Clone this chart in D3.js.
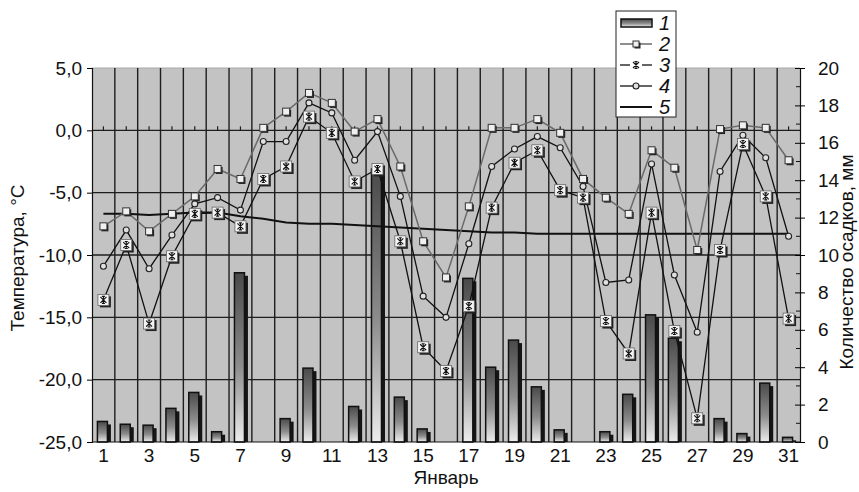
<!DOCTYPE html>
<html>
<head>
  <meta charset="UTF-8">
  <title>Январь</title>
  <style>
    body { margin: 0; background: #ffffff; }
    svg { display: block; font-family: "Liberation Sans", Arial, sans-serif; }
  </style>
</head>
<body>
<svg></svg>
<script src="https://d3js.org/d3.v7.min.js"></script>
<script>

let width = 859, height = 492;

// days of January
const days = d3.range(1, 32);
// 1 - precipitation, mm (right axis)
const precip = [1.1, 0.95, 0.9, 1.8, 2.65, 0.55, 9.05, 0, 1.25, 3.95,
                0, 1.9, 14.6, 2.4, 0.7, 0, 8.75, 4.0, 5.45, 2.95,
                0.65, 0, 0.55, 2.55, 6.8, 5.55, 0, 1.25, 0.45, 3.15, 0.25];
// 2 - max temperature
const tMax = [-7.7, -6.5, -8.1, -6.7, -5.3, -3.1, -3.9, 0.2, 1.5, 3.0,
              2.2, -0.1, 0.9, -2.9, -8.9, -11.8, -6.1, 0.2, 0.2, 0.9,
              -0.2, -3.9, -5.4, -6.7, -1.6, -3.0, -9.6, 0.1, 0.4, 0.2, -2.4];
// 3 - min temperature
const tMin = [-13.6, -9.2, -15.5, -10.1, -6.7, -6.6, -7.7, -3.9, -2.9, 1.1,
              -0.2, -4.1, -3.1, -8.9, -17.4, -19.3, -14.1, -6.2, -2.6, -1.6,
              -4.8, -5.4, -15.3, -17.9, -6.6, -16.1, -23.1, -9.6, -1.1, -5.3, -15.1];
// 4 - mean temperature
const tMean = [-10.9, -8.0, -11.1, -8.4, -5.9, -5.4, -6.4, -0.9, -0.9, 2.2,
               1.4, -2.4, -0.1, -5.3, -13.3, -15.0, -9.1, -2.9, -1.5, -0.5,
               -1.4, -4.5, -12.2, -12.0, -2.7, -11.6, -16.2, -3.3, -0.4, -2.2, -8.5];
// 5 - long-term norm
const tNorm = [-6.7, -6.7, -6.8, -6.7, -6.6, -6.6, -6.9, -7.1, -7.4, -7.5,
               -7.5, -7.6, -7.7, -7.8, -7.9, -8.0, -8.1, -8.2, -8.2, -8.3,
               -8.3, -8.3, -8.3, -8.3, -8.3, -8.3, -8.3, -8.3, -8.3, -8.3, -8.3];

const tempTicks = [-25, -20, -15, -10, -5, 0, 5];
const precipTicks = d3.range(0, 21, 2);
const legendLabels = ["1", "2", "3", "4", "5"];

let svg = d3.select("svg")
    .attr("width", width)
    .attr("height", height);

let pLeft = 92, pRight = 800, pTop = 68, pBottom = 442;

let x = d3.scaleBand().domain(days).range([pLeft, pRight]).padding(0);
let yT = d3.scaleLinear().domain([-25, 5]).range([pBottom, pTop]);
let yP = d3.scaleLinear().domain([0, 20]).range([pBottom, pTop]);
let cx = d => x(d) + x.bandwidth() / 2;

let defs = svg.append("defs");
let grad = defs.append("linearGradient")
    .attr("id", "barGrad")
    .attr("x1", 0).attr("y1", 0).attr("x2", 0).attr("y2", 1);
grad.append("stop").attr("offset", "0%").attr("stop-color", "#4a4a4a");
grad.append("stop").attr("offset", "55%").attr("stop-color", "#8c8c8c");
grad.append("stop").attr("offset", "100%").attr("stop-color", "#ececec");

// plot area
svg.append("rect")
    .attr("x", pLeft).attr("y", pTop)
    .attr("width", pRight - pLeft).attr("height", pBottom - pTop)
    .attr("fill", "#c3c3c3");
svg.append("line")
    .attr("x1", pLeft).attr("x2", pRight).attr("y1", pTop).attr("y2", pTop)
    .attr("stroke", "#a8a8a8").attr("stroke-width", 1);

// gridlines
let grid = svg.append("g");
grid.selectAll(".vg")
    .data(days.slice(1))
    .enter().append("line")
    .attr("x1", d => x(d)).attr("x2", d => x(d))
    .attr("y1", pTop).attr("y2", pBottom)
    .attr("stroke", "#1e1e1e").attr("stroke-width", 1.4);
grid.selectAll(".hg")
    .data(tempTicks.filter(v => v > -25 && v < 5))
    .enter().append("line")
    .attr("x1", pLeft).attr("x2", pRight)
    .attr("y1", d => yT(d)).attr("y2", d => yT(d))
    .attr("stroke", "#1e1e1e").attr("stroke-width", 1.4);

// small category ticks on the zero line
grid.selectAll(".zt")
    .data(days)
    .enter().append("line")
    .attr("x1", d => cx(d)).attr("x2", d => cx(d))
    .attr("y1", yT(0)).attr("y2", yT(0) - 4)
    .attr("stroke", "#1e1e1e").attr("stroke-width", 1.2);

// bars (series 1)
let bw = 10;
let bars = svg.append("g").selectAll("g")
    .data(days.filter((d, i) => precip[i] > 0))
    .enter().append("g");
bars.append("rect")
    .attr("x", d => cx(d) - bw / 2 - 1 + 3.5)
    .attr("y", d => yP(precip[d - 1]) + 3)
    .attr("width", bw)
    .attr("height", d => pBottom - yP(precip[d - 1]) - 3)
    .attr("fill", "#151515");
bars.append("rect")
    .attr("x", d => cx(d) - bw / 2 - 1)
    .attr("y", d => yP(precip[d - 1]))
    .attr("width", bw)
    .attr("height", d => pBottom - yP(precip[d - 1]))
    .attr("fill", "url(#barGrad)")
    .attr("stroke", "#111")
    .attr("stroke-width", 1.5);

// lines
let line = d3.line().x((v, i) => cx(days[i])).y(v => yT(v));

svg.append("path").datum(tNorm)
    .attr("d", line).attr("fill", "none")
    .attr("stroke", "#111").attr("stroke-width", 2);

svg.append("path").datum(tMax)
    .attr("d", line).attr("fill", "none")
    .attr("stroke", "#6a6a6a").attr("stroke-width", 1.5);

svg.append("path").datum(tMean)
    .attr("d", line).attr("fill", "none")
    .attr("stroke", "#111").attr("stroke-width", 1.3);

svg.append("path").datum(tMin)
    .attr("d", line).attr("fill", "none")
    .attr("stroke", "#111").attr("stroke-width", 1.3);

// markers
function squareMark(g, s) {
  g.append("rect").attr("x", -s / 2 + 1.5).attr("y", -s / 2 + 1.5)
    .attr("width", s).attr("height", s).attr("fill", "#222");
  g.append("rect").attr("x", -s / 2).attr("y", -s / 2)
    .attr("width", s).attr("height", s)
    .attr("fill", "#f0f0f0").attr("stroke", "#333").attr("stroke-width", 1);
}
function starMark(g, boxed) {
  if (boxed) {
    g.append("rect").attr("x", -5.5 + 2).attr("y", -5.5 + 2)
      .attr("width", 11).attr("height", 11).attr("fill", "#222");
    g.append("rect").attr("x", -5.5).attr("y", -5.5)
      .attr("width", 11).attr("height", 11)
      .attr("fill", "#f4f4f4").attr("stroke", "#666").attr("stroke-width", 0.8);
  }
  let r = 3.5;
  let p = "M0," + (-r) + "V" + r +
          "M" + (-3) + "," + (-3) + "L3,3" +
          "M3,-3L-3,3" +
          "M-1.5," + (-r) + "H1.5" +
          "M-1.5," + r + "H1.5";
  g.append("path").attr("d", p).attr("stroke", "#111").attr("stroke-width", 1.1).attr("fill", "none");
}
function circleMark(g) {
  g.append("circle").attr("r", 3).attr("fill", "#e0e0e0")
    .attr("stroke", "#222").attr("stroke-width", 1.1);
}

svg.append("g").selectAll("g")
    .data(tMax).enter().append("g")
    .attr("transform", (v, i) => "translate(" + cx(days[i]) + "," + yT(v) + ")")
    .each(function() { squareMark(d3.select(this), 7); });

svg.append("g").selectAll("g")
    .data(tMean).enter().append("g")
    .attr("transform", (v, i) => "translate(" + cx(days[i]) + "," + yT(v) + ")")
    .each(function() { circleMark(d3.select(this)); });

svg.append("g").selectAll("g")
    .data(tMin).enter().append("g")
    .attr("transform", (v, i) => "translate(" + cx(days[i]) + "," + yT(v) + ")")
    .each(function() { starMark(d3.select(this), true); });

// axes
let leftAxis = svg.append("g")
    .attr("transform", "translate(" + pLeft + ",0)")
    .call(d3.axisLeft(yT).tickValues(tempTicks).tickSize(5).tickPadding(5)
      .tickFormat(d => d.toFixed(1).replace(".", ",")));
leftAxis.select(".domain").attr("stroke", "#111").attr("stroke-width", 1.2);
leftAxis.selectAll("text").style("font-size", "19px").attr("fill", "#111")
    .attr("font-family", "'Liberation Sans', Arial, sans-serif");

let rightAxis = svg.append("g")
    .attr("transform", "translate(" + pRight + ",0)")
    .call(d3.axisRight(yP).tickValues(precipTicks).tickSize(5).tickPadding(13)
      .tickFormat(d => String(d)));
rightAxis.select(".domain").attr("stroke", "#111").attr("stroke-width", 1.2);
rightAxis.selectAll(".tick line").attr("x1", -5);
rightAxis.selectAll("text").style("font-size", "19px").attr("fill", "#111")
    .attr("font-family", "'Liberation Sans', Arial, sans-serif");
rightAxis.selectAll(".minor")
    .data(d3.range(1, 20, 2))
    .enter().append("line")
    .attr("x1", -4).attr("x2", 0)
    .attr("y1", d => yP(d)).attr("y2", d => yP(d))
    .attr("stroke", "#111");

svg.append("line")
    .attr("x1", pLeft).attr("x2", pRight).attr("y1", pBottom).attr("y2", pBottom)
    .attr("stroke", "#111").attr("stroke-width", 1.2);

let bottomAxis = svg.append("g")
    .attr("transform", "translate(0," + pBottom + ")")
    .call(d3.axisBottom(x).tickValues(days.filter(d => d % 2 === 1)).tickSize(0).tickPadding(7));
bottomAxis.select(".domain").remove();
bottomAxis.selectAll("text").style("font-size", "19px").attr("fill", "#111")
    .attr("font-family", "'Liberation Sans', Arial, sans-serif");

// titles
svg.append("text")
    .attr("transform", "translate(24,258) rotate(-90)")
    .attr("text-anchor", "middle")
    .style("font-size", "19px").attr("fill", "#111")
    .text("Температура, °С");
svg.append("text")
    .attr("transform", "translate(853,262) rotate(-90)")
    .attr("text-anchor", "middle")
    .style("font-size", "19px").attr("fill", "#111")
    .text("Количество осадков, мм");
svg.append("text")
    .attr("x", (pLeft + pRight) / 2).attr("y", 484)
    .attr("text-anchor", "middle")
    .style("font-size", "19px").attr("fill", "#111")
    .text("Январь");

// legend
let lg = svg.append("g");
lg.append("rect")
    .attr("x", 616).attr("y", 11).attr("width", 60).attr("height", 106)
    .attr("fill", "#fff").attr("stroke", "#222").attr("stroke-width", 1);
let ly = d3.scalePoint().domain(legendLabels).range([23, 107]);
legendLabels.forEach(k => {
  let yy = ly(k);
  let g = lg.append("g").attr("transform", "translate(636," + yy + ")");
  if (k === "1") {
    g.append("rect").attr("x", -15).attr("y", -4).attr("width", 31).attr("height", 8)
      .attr("fill", "url(#barGrad)").attr("stroke", "#111").attr("stroke-width", 1.5);
  } else if (k === "2") {
    g.append("line").attr("x1", -16).attr("x2", 16).attr("stroke", "#6a6a6a").attr("stroke-width", 1.5);
    squareMark(g, 6);
  } else if (k === "3") {
    g.append("line").attr("x1", -16).attr("x2", -6).attr("stroke", "#111").attr("stroke-width", 1.3);
    g.append("line").attr("x1", 6).attr("x2", 16).attr("stroke", "#111").attr("stroke-width", 1.3);
    starMark(g, false);
  } else if (k === "4") {
    g.append("line").attr("x1", -16).attr("x2", 16).attr("stroke", "#111").attr("stroke-width", 1.3);
    circleMark(g);
  } else {
    g.append("line").attr("x1", -16).attr("x2", 16).attr("stroke", "#111").attr("stroke-width", 2);
  }
  lg.append("text")
    .attr("x", 659).attr("y", yy + 7)
    .style("font-size", "20px").style("font-style", "italic").attr("fill", "#111")
    .text(k);
});

</script>
</body>
</html>
